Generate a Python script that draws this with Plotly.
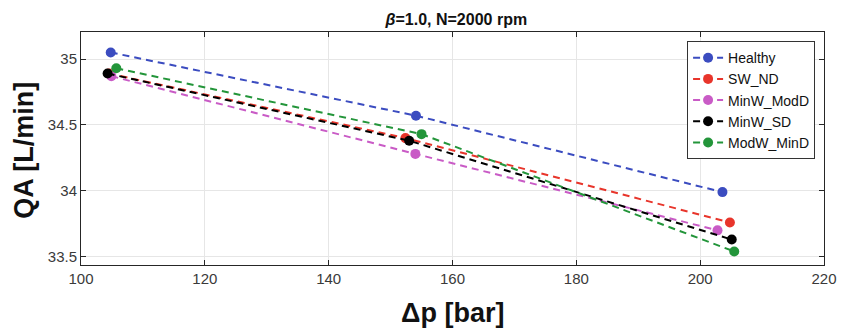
import plotly.graph_objects as go

names = ["Healthy", "SW_ND", "MinW_ModD", "MinW_SD", "ModW_MinD"]
colors = ["#3b4cc0", "#e8352b", "#c95bc6", "#000000", "#23953a"]

dp_healthy = [104.8, 154.1, 203.6]
qa_healthy = [35.05, 34.57, 33.99]
dp_sw_nd = [104.5, 152.4, 204.8]
qa_sw_nd = [34.89, 34.40, 33.76]
dp_minw_modd = [104.9, 154.0, 202.8]
qa_minw_modd = [34.87, 34.28, 33.70]
dp_minw_sd = [104.3, 153.0, 205.1]
qa_minw_sd = [34.89, 34.38, 33.63]
dp_modw_mind = [105.7, 155.0, 205.5]
qa_modw_mind = [34.93, 34.43, 33.54]

xs = [dp_healthy, dp_sw_nd, dp_minw_modd, dp_minw_sd, dp_modw_mind]
ys = [qa_healthy, qa_sw_nd, qa_minw_modd, qa_minw_sd, qa_modw_mind]

x_ticks = [100, 120, 140, 160, 180, 200, 220]
y_ticks = [33.5, 34, 34.5, 35]
y_tick_text = ["33.5", "34", "34.5", "35"]

fig = go.Figure()
for n, c, x, y in zip(names, colors, xs, ys):
    fig.add_trace(go.Scatter(
        x=x, y=y, name=n, mode="lines+markers",
        line=dict(color=c, width=2, dash="7px,5px"),
        marker=dict(color=c, size=10),
    ))

font_family = "Liberation Sans, Arial, sans-serif"
axis_common = dict(
    showline=True, linecolor="#262626", linewidth=1, mirror="ticks",
    ticks="inside", ticklen=5, tickcolor="#262626",
    showgrid=True, gridcolor="#e6e6e6", gridwidth=1,
    zeroline=False,
    tickfont=dict(family=font_family, size=15, color="#3a3a3a"),
)

fig.update_layout(
    width=849, height=329,
    margin=dict(l=81, r=16, t=32, b=64),
    paper_bgcolor="white", plot_bgcolor="white",
    title=dict(text="<b><i>β</i>=1.0, N=2000 rpm</b>", x=0.5375, xanchor="center",
               y=1 - 19 / 329, yanchor="middle", yref="container",
               font=dict(family=font_family, size=16, color="#111")),
    xaxis=dict(range=[100, 220], tickvals=x_ticks, **axis_common),
    yaxis=dict(range=[33.437, 35.205], tickvals=y_ticks, ticktext=y_tick_text, **axis_common),
    legend=dict(x=0.988, xanchor="right", y=0.961, yanchor="top",
                bgcolor="white", bordercolor="#333", borderwidth=1,
                font=dict(family=font_family, size=14, color="#111"),
                tracegroupgap=0),
    showlegend=True,
)

fig.add_annotation(text="<b>Δp [bar]</b>", xref="paper", yref="paper",
                   x=0.5, y=(265 - 313) / 233, xanchor="center", yanchor="middle",
                   showarrow=False, font=dict(family=font_family, size=27, color="#111"))
fig.add_annotation(text="<b>QA [L/min]</b>", xref="paper", yref="paper",
                   x=(23 - 81) / 752, y=(265 - 150) / 233, xanchor="center", yanchor="middle",
                   textangle=-90, showarrow=False,
                   font=dict(family=font_family, size=27, color="#111"))

fig.write_html("out.html")
